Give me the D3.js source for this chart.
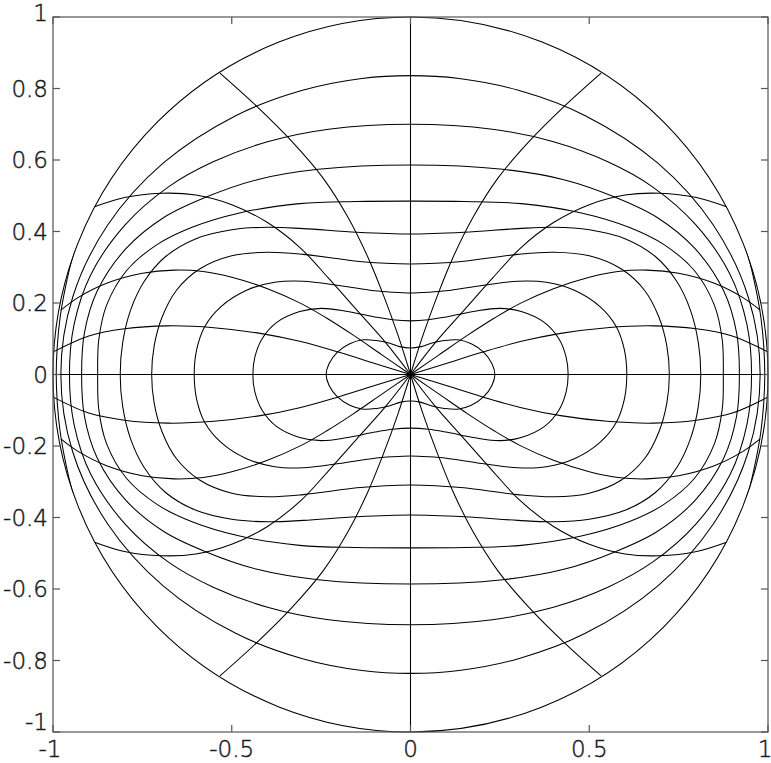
<!DOCTYPE html>
<html><head><meta charset="utf-8">
<script src="https://cdn.jsdelivr.net/npm/d3@7"></script>
<style>
body{margin:0;background:#fff;}
text{font-family:"DejaVu Sans","Noto Sans",sans-serif;}
</style></head>
<body><svg id="c" width="771" height="763"></svg>
<script>
// Tick values
const xTicks = [-1, -0.5, 0, 0.5, 1];
const yTicks = [-1, -0.8, -0.6, -0.4, -0.2, 0, 0.2, 0.4, 0.6, 0.8, 1];

// Parallels: first-quadrant point lists, from the x-axis crossing to the y-axis crossing
const par1 = [[0.236,0],[0.228,0.03],[0.205,0.062],[0.17,0.086],[0.132,0.097],[0.095,0.095],[0.06,0.088],[0.03,0.078],[0,0.074]];
const par2 = [[0.441,0],[0.435,0.05],[0.415,0.1],[0.375,0.145],[0.31,0.176],[0.25,0.185],[0.18,0.177],[0.1,0.161],[0.05,0.153],[0,0.15]];
const par3 = [[0.605,0],[0.598,0.07],[0.575,0.135],[0.53,0.19],[0.46,0.235],[0.38,0.258],[0.3,0.261],[0.2,0.249],[0.1,0.234],[0.05,0.23],[0,0.228]];
const par4 = [[0.724,0],[0.717,0.08],[0.695,0.16],[0.655,0.235],[0.59,0.295],[0.5,0.332],[0.4,0.342],[0.3,0.336],[0.15,0.317],[0.07,0.311],[0,0.309]];
const par5 = [[0.812,0],[0.805,0.09],[0.783,0.18],[0.745,0.26],[0.685,0.33],[0.6,0.38],[0.5,0.405],[0.4,0.412],[0.3,0.408],[0.15,0.398],[0,0.393]];
const par6 = [[0.875,0],[0.872,0.097],[0.85,0.194],[0.794,0.291],[0.708,0.364],[0.611,0.412],[0.478,0.452],[0.31,0.478],[0.15,0.484],[0,0.485]];
const par7 = [[0.92,0],[0.912,0.117],[0.876,0.234],[0.796,0.352],[0.689,0.44],[0.575,0.495],[0.429,0.545],[0.258,0.574],[0,0.586]];
const par8 = [[0.954,0],[0.941,0.14],[0.894,0.28],[0.797,0.42],[0.677,0.525],[0.552,0.595],[0.40,0.651],[0.229,0.686],[0,0.70]];
const par9 = [[0.978,0],[0.945,0.216],[0.847,0.418],[0.692,0.591],[0.489,0.724],[0.302,0.795],[0.136,0.828],[0,0.836]];
const par10 = [[0.991,0],[0.988,0.08],[0.980,0.16],[0.966,0.24],[0.945,0.33],[0.915,0.42]];
const parallels = [par1, par2, par3, par4, par5, par6, par7, par8, par9];

// Meridians: first-quadrant point lists, from the centre to the rim
const mer18 = [[0,0],[0.035,0.11],[0.075,0.22],[0.12,0.33],[0.175,0.44],[0.245,0.55],[0.33,0.65],[0.43,0.75],[0.533,0.843]];
const mer36 = [[0,0],[0.07,0.09],[0.15,0.18],[0.23,0.27],[0.307,0.353],[0.4,0.425],[0.5,0.475],[0.6,0.502],[0.697,0.507],[0.8,0.495],[0.884,0.469]];
const mer54 = [[0,0],[0.08,0.055],[0.16,0.11],[0.235,0.158],[0.307,0.199],[0.4,0.24],[0.5,0.272],[0.58,0.288],[0.661,0.292],[0.75,0.283],[0.85,0.255],[0.93,0.215],[0.978,0.18]];
const mer72 = [[0,0],[0.1,0.031],[0.2,0.062],[0.307,0.092],[0.42,0.115],[0.55,0.131],[0.679,0.136],[0.8,0.128],[0.9,0.108],[0.998,0.064]];
const meridians = [mer18, mer36, mer54, mer72];

const svg = d3.select("#c");
const L = 53, R = 768, T = 17, B = 732;
const x = d3.scaleLinear().domain([-1, 1]).range([L, R]);
const y = d3.scaleLinear().domain([-1, 1]).range([B, T]);

svg.append("defs").append("clipPath").attr("id", "disk").append("circle")
  .attr("cx", x(0)).attr("cy", y(0)).attr("r", x(1) - x(0) + 0.3);

const g = svg.append("g").attr("clip-path", "url(#disk)");
const line = d3.line().x(d => x(d[0])).y(d => y(d[1])).curve(d3.curveCatmullRom.alpha(0.5));
const closed = d3.line().x(d => x(d[0])).y(d => y(d[1])).curve(d3.curveCatmullRomClosed.alpha(0.5));
const style = sel => sel.attr("fill", "none").attr("stroke", "#000").attr("stroke-width", 1.05);
const quads = [[1,1],[-1,1],[1,-1],[-1,-1]];

// closed parallels built from one quadrant by symmetry
parallels.forEach(q => {
  const q2 = q.slice(0, -1).reverse().map(p => [-p[0], p[1]]);
  const q3 = q.slice(1).map(p => [-p[0], -p[1]]);
  const q4 = q.slice(1, -1).reverse().map(p => [p[0], -p[1]]);
  const pts = q.concat(q2, q3, q4);
  g.append("path").datum(pts).attr("d", closed).call(style);
});

// outermost parallel: only its arcs near the x-axis fall inside the rim
[1, -1].forEach(sx => {
  const arc = par10.slice().reverse().map(p => [sx*p[0], -p[1]]).concat(par10.slice(1).map(p => [sx*p[0], p[1]]));
  g.append("path").datum(arc).attr("d", line).call(style);
});

meridians.forEach(m => {
  quads.forEach(([sx, sy]) => {
    g.append("path").datum(m.map(p => [sx*p[0], sy*p[1]])).attr("d", line).call(style);
  });
});

// straight meridians
g.append("path").datum([[0,-1],[0,1]]).attr("d", line).call(style);
g.append("path").datum([[-1,0],[1,0]]).attr("d", line).call(style);

// rim
svg.append("circle").attr("cx", x(0)).attr("cy", y(0)).attr("r", x(1) - x(0))
  .attr("fill", "none").attr("stroke", "#000").attr("stroke-width", 1.05);

// frame, ticks and labels
const ax = svg.append("g");
const axc = "#555";
ax.append("rect").attr("x", L).attr("y", T).attr("width", R - L).attr("height", B - T)
  .attr("fill", "none").attr("stroke", axc).attr("stroke-width", 1.2);
const tl = 7;
const fmt = v => d3.format("")(v).replace("\u2212", "-");
const lab = sel => sel.attr("font-size", 23).attr("font-weight", 300).attr("fill", "#1a1a1a")
  .attr("stroke", "#1a1a1a").attr("stroke-width", 0.45);
yTicks.forEach(v => {
  ax.append("line").attr("x1", L).attr("x2", L + tl).attr("y1", y(v)).attr("y2", y(v)).attr("stroke", axc).attr("stroke-width", 1.2);
  ax.append("line").attr("x1", R).attr("x2", R - tl).attr("y1", y(v)).attr("y2", y(v)).attr("stroke", axc).attr("stroke-width", 1.2);
  const shift = v === 1 ? -4 : (v === -1 ? -10 : 0);
  ax.append("text").attr("x", L - 5).attr("y", y(v) + shift).attr("dy", "0.36em")
    .attr("text-anchor", "end").call(lab).text(fmt(v));
});
xTicks.forEach(v => {
  ax.append("line").attr("y1", B).attr("y2", B - tl).attr("x1", x(v)).attr("x2", x(v)).attr("stroke", axc).attr("stroke-width", 1.2);
  ax.append("line").attr("y1", T).attr("y2", T + tl).attr("x1", x(v)).attr("x2", x(v)).attr("stroke", axc).attr("stroke-width", 1.2);
  const dx = v === 1 ? -3 : (v === -1 ? -3 : 0);
  ax.append("text").attr("x", x(v) + dx).attr("y", B + 25)
    .attr("text-anchor", "middle").call(lab).text(fmt(v));
});
</script></body></html>
